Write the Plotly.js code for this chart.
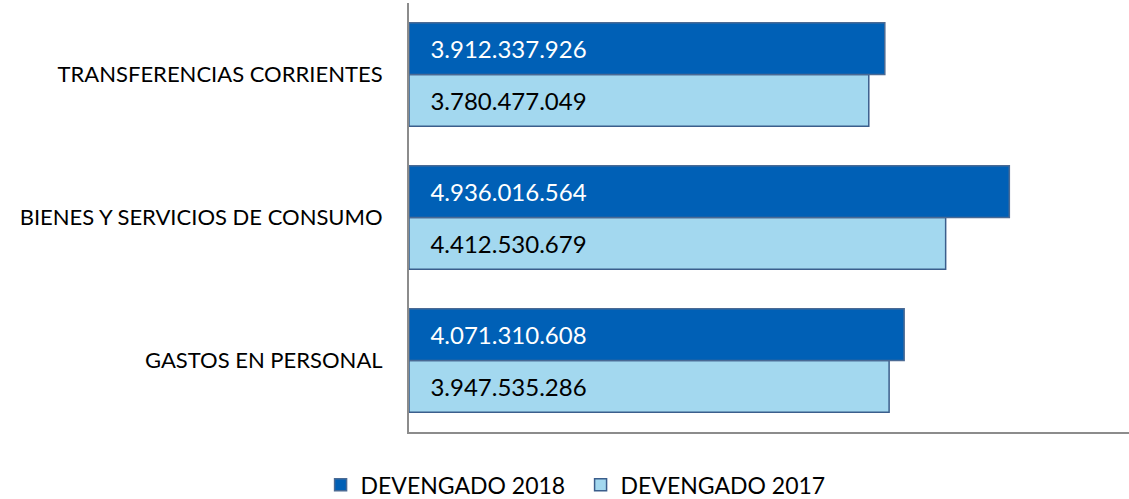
<!DOCTYPE html>
<html>
<head>
<meta charset="utf-8">
<script src="https://cdn.plot.ly/plotly-3.0.1.min.js"></script>
<style>html,body{margin:0;padding:0;background:#fff;}#chart{width:1129px;height:499px;}</style>
</head>
<body>
<div id="chart"></div>
<script>
const categories = ["GASTOS EN PERSONAL", "BIENES Y SERVICIOS DE CONSUMO", "TRANSFERENCIAS CORRIENTES"];
const seriesNames = ["DEVENGADO 2018", "DEVENGADO 2017"];
const values2018 = [4071310608, 4936016564, 3912337926];
const values2017 = [3947535286, 4412530679, 3780477049];

function fmt(v) {
  return String(v).replace(/\B(?=(\d{3})+(?!\d))/g, ".");
}
const pad = "\u00a0\u00a0\u00a0";

const FONT = "Lato, 'Open Sans', sans-serif";

const trace2017 = {
  type: "bar", orientation: "h", name: seriesNames[1],
  y: categories, x: values2017,
  text: values2017.map(v => pad + fmt(v)),
  textposition: "inside", insidetextanchor: "start",
  textfont: {color: "#000000", size: 24, family: FONT},
  marker: {color: "#A3D8EF", line: {color: "#3B5E8C", width: 1.5}},
  hoverinfo: "x+y"
};
const trace2018 = {
  type: "bar", orientation: "h", name: seriesNames[0],
  y: categories, x: values2018,
  text: values2018.map(v => pad + fmt(v)),
  textposition: "inside", insidetextanchor: "start",
  textfont: {color: "#ffffff", size: 24, family: FONT},
  marker: {color: "#0060B6", line: {color: "#4A6A94", width: 1.5}},
  hoverinfo: "x+y"
};

const layout = {
  width: 1129, height: 499,
  margin: {l: 409, r: 0, t: 3, b: 67, pad: 0, autoexpand: false},
  paper_bgcolor: "#ffffff", plot_bgcolor: "#ffffff",
  barmode: "group", bargap: 0.275, bargroupgap: 0,
  font: {family: FONT, size: 22, color: "#000000"},
  showlegend: true,
  legend: {orientation: "h", xref: "paper", yref: "paper", x: -0.1228, xanchor: "left",
           y: -0.073, yanchor: "top", font: {size: 23, family: FONT},
           traceorder: "reversed", itemwidth: 30, entrywidth: 215},
  xaxis: {range: [0, 5.92e9], showgrid: false, zeroline: false, showticklabels: false,
          showline: true, linecolor: "#8C8C8C", linewidth: 2, ticks: ""},
  yaxis: {showgrid: false, zeroline: false, showline: true, linecolor: "#8C8C8C", linewidth: 2,
          ticks: "", ticklabelstandoff: 20, tickfont: {size: 22, family: FONT},
          autorange: false, range: [-0.5, 2.5]}
};

Plotly.newPlot("chart", [trace2017, trace2018], layout, {displayModeBar: false, staticPlot: true});
</script>
</body>
</html>
